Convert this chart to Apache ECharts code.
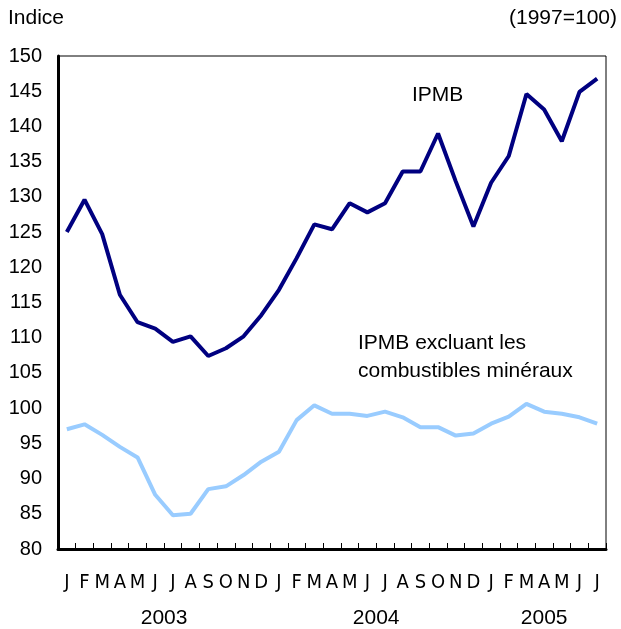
<!DOCTYPE html>
<html>
<head>
<meta charset="utf-8">
<script src="https://cdn.jsdelivr.net/npm/echarts@6/dist/echarts.min.js"></script>
<style>
html,body{margin:0;padding:0;background:#fff;}
#chart{width:621px;height:629px;}
</style>
</head>
<body>
<div id="chart"></div>
<script>
const months = ['J','F','M','A','M','J','J','A','S','O','N','D',
                'J','F','M','A','M','J','J','A','S','O','N','D',
                'J','F','M','A','M','J','J'];
const years = ['2003','2004','2005'];
const yearCenters = [6, 18, 27.5];
const ipmb = [125.0,129.6,124.7,116.1,112.2,111.3,109.4,110.2,107.4,108.5,110.2,113.2,
              116.8,121.3,126.1,125.4,129.1,127.8,129.1,133.6,133.6,139.0,132.2,125.8,
              132.0,135.8,144.6,142.4,137.9,144.9,146.8];
const ipmbExcl = [97.0,97.7,96.2,94.5,93.0,87.7,84.8,85.0,88.5,88.9,90.5,92.4,
                  93.8,98.3,100.4,99.2,99.2,98.9,99.5,98.7,97.3,97.3,96.1,96.4,
                  97.8,98.8,100.6,99.5,99.2,98.7,97.8];
const yTicks = {min:80, max:150, interval:5};

const font = 'Liberation Sans, Arial, Helvetica, sans-serif';
const narrow = '"Liberation Sans Narrow", "Arial Narrow", "DejaVu Sans Condensed", sans-serif';

const chart = echarts.init(document.getElementById('chart'), null, {renderer:'canvas'});
chart.setOption({
  backgroundColor:'#fff',
  animation:false,
  grid:{left:58, top:56, right:15, bottom:78, show:true, borderColor:'#000', borderWidth:1, containLabel:false},
  xAxis:[{
    type:'category', data:months, boundaryGap:true, position:'bottom',
    axisLine:{show:true, lineStyle:{color:'#000', width:3}},
    axisTick:{show:true, inside:true, length:6, lineStyle:{color:'#000', width:1}},
    axisLabel:{color:'#000', fontFamily:narrow, fontSize:20, margin:24, interval:0}
  },{
    type:'value', min:0, max:months.length, position:'bottom', offset:0,
    axisLine:{show:false}, axisTick:{show:false}, splitLine:{show:false},
    axisLabel:{show:true, customValues:yearCenters, color:'#000', fontFamily:font, fontSize:21, margin:59,
      formatter:function(v){ const i = yearCenters.indexOf(v); return i>=0 ? years[i] : ''; }}
  }],
  yAxis:{
    type:'value', min:yTicks.min, max:yTicks.max, interval:yTicks.interval,
    axisLine:{show:true, lineStyle:{color:'#000', width:3}},
    axisTick:{show:false}, splitLine:{show:false},
    axisLabel:{color:'#000', fontFamily:font, fontSize:20, margin:16}
  },
  series:[{
    name:'IPMB', type:'line', data:ipmb, xAxisIndex:0, symbol:'none',
    lineStyle:{color:'#000080', width:4}, z:3
  },{
    name:'IPMB excluant les combustibles minéraux', type:'line', data:ipmbExcl, xAxisIndex:0, symbol:'none',
    lineStyle:{color:'#99ccff', width:4}, z:2
  }],
  graphic:[
    {type:'text', left:8, top:8, style:{text:'Indice', fill:'#000', font:'21px '+font}},
    {type:'text', right:4, top:8, style:{text:'(1997=100)', fill:'#000', font:'21px '+font}},
    {type:'text', left:412, top:85, style:{text:'IPMB', fill:'#000', font:'21px '+font}},
    {type:'text', left:358, top:329, style:{text:'IPMB excluant les\ncombustibles minéraux', fill:'#000', font:'21px '+font, lineHeight:28}}
  ]
});
</script>
</body>
</html>
